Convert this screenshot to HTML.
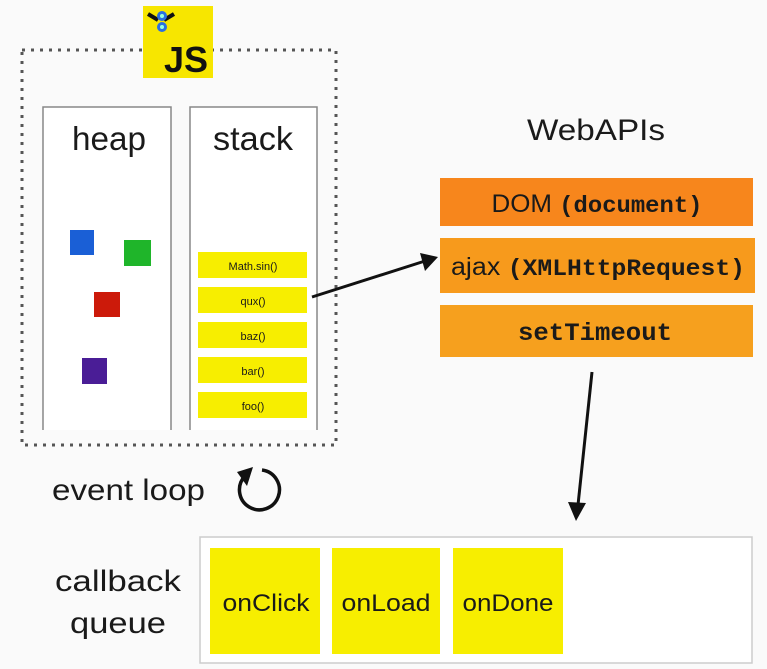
<!DOCTYPE html>
<html><head><meta charset="utf-8"><style>
html,body{margin:0;padding:0;background:#fafafa;}
svg{display:block}
text{font-family:"Liberation Sans",sans-serif;fill:#1a1a1a}
.m{font-family:"Liberation Mono",monospace;font-weight:bold}
</style></head><body>
<svg width="767" height="669" viewBox="0 0 767 669" xmlns="http://www.w3.org/2000/svg">
<rect width="767" height="669" fill="#fafafa"/>
<rect x="22" y="50" width="314" height="395" fill="none" stroke="#555" stroke-width="3" stroke-dasharray="3 6"/>
<path d="M43 430 V107 H171 V430" fill="#fff" stroke="#888" stroke-width="1.5"/>
<path d="M190 430 V107 H317 V430" fill="#fff" stroke="#888" stroke-width="1.5"/>
<text x="109" y="150" font-size="33" text-anchor="middle" textLength="74" lengthAdjust="spacingAndGlyphs">heap</text>
<text x="253" y="150" font-size="33" text-anchor="middle" textLength="80" lengthAdjust="spacingAndGlyphs">stack</text>
<rect x="70" y="230" width="24" height="25" fill="#1a5fd6"/>
<rect x="124" y="240" width="27" height="26" fill="#1fb52a"/>
<rect x="94" y="292" width="26" height="25" fill="#cc1a0a"/>
<rect x="82" y="358" width="25" height="26" fill="#4a1d96"/>
<g fill="#f7ee00">
<rect x="198" y="252" width="109" height="26"/>
<rect x="198" y="287" width="109" height="26"/>
<rect x="198" y="322" width="109" height="26"/>
<rect x="198" y="357" width="109" height="26"/>
<rect x="198" y="392" width="109" height="26"/>
</g>
<g font-size="11" text-anchor="middle">
<text x="253" y="270">Math.sin()</text>
<text x="253" y="305">qux()</text>
<text x="253" y="340">baz()</text>
<text x="253" y="375">bar()</text>
<text x="253" y="410">foo()</text>
</g>
<rect x="143" y="6" width="70" height="72" fill="#f7e600"/>
<text x="186" y="72" font-size="36" font-weight="bold" text-anchor="middle" style="fill:#111">JS</text>
<path d="M148 14 l10 6 M174 14 l-10 6" stroke="#111" stroke-width="4"/>
<circle cx="162" cy="16" r="5" fill="#2a6fe0"/><circle cx="162" cy="27" r="5" fill="#2a6fe0"/>
<circle cx="162" cy="16" r="2" fill="#9fd"/><circle cx="162" cy="27" r="2" fill="#9fd"/>
<text x="596" y="140" font-size="30" text-anchor="middle" textLength="138" lengthAdjust="spacingAndGlyphs">WebAPIs</text>
<rect x="440" y="178" width="313" height="48" fill="#f7861c"/>
<rect x="440" y="238" width="315" height="55" fill="#f79a1c"/>
<rect x="440" y="305" width="313" height="52" fill="#f6a01e"/>
<text x="597" y="212" font-size="25" text-anchor="middle" textLength="211" lengthAdjust="spacingAndGlyphs">DOM <tspan class="m" font-size="23">(document)</tspan></text>
<text x="598" y="275" font-size="25" text-anchor="middle" textLength="294" lengthAdjust="spacingAndGlyphs">ajax <tspan class="m" font-size="23">(XMLHttpRequest)</tspan></text>
<text x="595" y="340" font-size="25" text-anchor="middle" class="m" textLength="154" lengthAdjust="spacingAndGlyphs">setTimeout</text>
<line x1="312" y1="297" x2="425" y2="261" stroke="#111" stroke-width="3"/>
<polygon points="438,257 420,253 425,271" fill="#111"/>
<line x1="592" y1="372" x2="578" y2="505" stroke="#111" stroke-width="3"/>
<polygon points="576,521 568,502 586,503" fill="#111"/>
<text x="52" y="500" font-size="30" textLength="153" lengthAdjust="spacingAndGlyphs">event loop</text>
<path d="M245 476 A20 20 0 1 0 262 470" fill="none" stroke="#111" stroke-width="3.5"/>
<polygon points="237,472 253,467 247,486" fill="#111"/>
<rect x="200" y="537" width="552" height="126" fill="#fff" stroke="#ccc" stroke-width="1.5"/>
<text x="118" y="591" font-size="30" text-anchor="middle" textLength="126" lengthAdjust="spacingAndGlyphs">callback</text>
<text x="118" y="633" font-size="30" text-anchor="middle" textLength="96" lengthAdjust="spacingAndGlyphs">queue</text>
<g fill="#f7ee00">
<rect x="210" y="548" width="110" height="106"/>
<rect x="332" y="548" width="108" height="106"/>
<rect x="453" y="548" width="110" height="106"/>
</g>
<g font-size="24" text-anchor="middle">
<text x="266" y="611" textLength="87" lengthAdjust="spacingAndGlyphs">onClick</text>
<text x="386" y="611" textLength="89" lengthAdjust="spacingAndGlyphs">onLoad</text>
<text x="508" y="611" textLength="91" lengthAdjust="spacingAndGlyphs">onDone</text>
</g>
</svg>
</body></html>
